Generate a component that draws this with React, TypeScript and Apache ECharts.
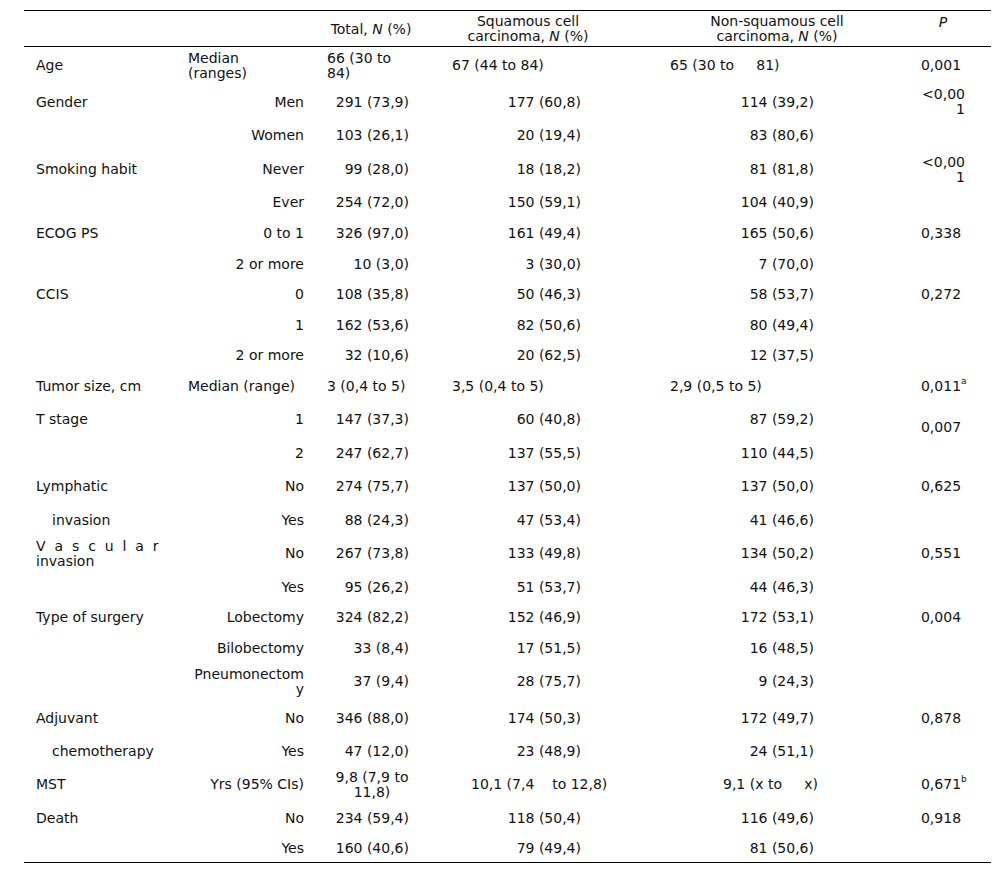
import React, { useEffect, useRef } from "react";
import * as echarts from "echarts";

// ---- Table data ----
const headers = ["Total, {i|N} (%)", "Squamous cell\ncarcinoma, {i|N} (%)", "Non-squamous cell\ncarcinoma, {i|N} (%)", "{i|P}"];

const variables = [
  "Age", "Gender", "", "Smoking habit", "", "ECOG PS", "", "CCIS", "", "",
  "Tumor size, cm", "T stage", "", "Lymphatic", "invasion", "V  a  s  c  u  l  a  r\ninvasion", "",
  "Type of surgery", "", "", "Adjuvant", "chemotherapy", "MST", "Death", "",
];

const subgroups = [
  "Median\n(ranges)", "Men", "Women", "Never", "Ever", "0 to 1", "2 or more", "0", "1", "2 or more",
  "Median (range)", "1", "2", "No", "Yes", "No", "Yes",
  "Lobectomy", "Bilobectomy", "Pneumonectom\ny", "No", "Yes", "Yrs (95% CIs)", "No", "Yes",
];

const totalN = [
  "66 (30 to\n84)", "291 (73,9)", "103 (26,1)", "99 (28,0)", "254 (72,0)", "326 (97,0)", "10 (3,0)",
  "108 (35,8)", "162 (53,6)", "32 (10,6)", "3 (0,4 to 5)", "147 (37,3)", "247 (62,7)", "274 (75,7)",
  "88 (24,3)", "267 (73,8)", "95 (26,2)", "324 (82,2)", "33 (8,4)", "37 (9,4)", "346 (88,0)",
  "47 (12,0)", "9,8 (7,9 to\n11,8)", "234 (59,4)", "160 (40,6)",
];

const squamousN = [
  "67 (44 to 84)", "177 (60,8)", "20 (19,4)", "18 (18,2)", "150 (59,1)", "161 (49,4)", "3 (30,0)",
  "50 (46,3)", "82 (50,6)", "20 (62,5)", "3,5 (0,4 to 5)", "60 (40,8)", "137 (55,5)", "137 (50,0)",
  "47 (53,4)", "133 (49,8)", "51 (53,7)", "152 (46,9)", "17 (51,5)", "28 (75,7)", "174 (50,3)",
  "23 (48,9)", "10,1 (7,4    to 12,8)", "118 (50,4)", "79 (49,4)",
];

const nonSquamousN = [
  "65 (30 to     81)", "114 (39,2)", "83 (80,6)", "81 (81,8)", "104 (40,9)", "165 (50,6)", "7 (70,0)",
  "58 (53,7)", "80 (49,4)", "12 (37,5)", "2,9 (0,5 to 5)", "87 (59,2)", "110 (44,5)", "137 (50,0)",
  "41 (46,6)", "134 (50,2)", "44 (46,3)", "172 (53,1)", "16 (48,5)", "9 (24,3)", "172 (49,7)",
  "24 (51,1)", "9,1 (x to     x)", "116 (49,6)", "81 (50,6)",
];

// P values by row, with optional superscript
const pRows = [0, 1, 3, 5, 7, 10, 11, 13, 15, 17, 20, 22, 23];
const pValues = ["0,001", "<0,00\n1", "<0,00\n1", "0,338", "0,272", "0,011", "0,007", "0,625", "0,551", "0,004", "0,878", "0,671", "0,918"];
const pSup = ["", "", "", "", "", "a", "", "", "", "", "", "b", ""];

// ---- Layout (positions only) ----
const rowY = [65, 101.5, 135, 169, 202, 232.5, 263.5, 294, 325, 355, 386, 419, 452.5, 486, 520, 553, 587, 617, 647.5, 681, 718, 751, 784, 818, 848];
const indentRows = [14, 21];
const FONT = "DejaVu Sans, Verdana, sans-serif";
const FS = 14;
const LH = 15;
const COLOR = "#111";

export default function App() {
  const ref = useRef<HTMLDivElement>(null);
  useEffect(() => {
    document.body.style.margin = "0";
    const chart = echarts.init(ref.current!, null, { renderer: "svg" });
    const els: any[] = [];
    const txt = (text: string, x: number, y: number, align: string, extra: any = {}) => {
      els.push({
        type: "text",
        x,
        y,
        silent: true,
        style: {
          text,
          fill: COLOR,
          fontFamily: FONT,
          fontSize: FS,
          lineHeight: LH,
          align,
          verticalAlign: "middle",
          rich: { i: { fontStyle: "italic", fontFamily: FONT, fontSize: FS, fill: COLOR, lineHeight: LH } },
          ...extra,
        },
      });
    };
    const hline = (y: number, w = 1) => {
      els.push({
        type: "line",
        silent: true,
        shape: { x1: 24, y1: y, x2: 991, y2: y },
        style: { stroke: "#000", lineWidth: w },
      });
    };
    hline(10.5, 1.2);
    hline(46.5, 1.2);
    hline(862.5, 1.2);

    // headers
    txt(headers[0], 371, 29, "center");
    txt(headers[1], 528, 28.5, "center");
    txt(headers[2], 777, 28.5, "center");
    txt(headers[3], 943, 22, "center");

    rowY.forEach((y, r) => {
      if (variables[r]) {
        txt(variables[r], indentRows.includes(r) ? 52 : 36, y, "left");
      }
      if (r === 0 || r === 10) txt(subgroups[r], 188, y, "left");
      else txt(subgroups[r], 304, y, "right");
      if (r === 0 || r === 10) {
        txt(totalN[r], 327, y, "left");
        txt(squamousN[r], 452, y, "left");
        txt(nonSquamousN[r], 670, y, "left");
      } else if (r === 22) {
        txt(totalN[r], 372, y, "center");
        txt(squamousN[r], 471, y, "left");
        txt(nonSquamousN[r], 723, y, "left");
      } else {
        txt(totalN[r], 409, y, "right");
        txt(squamousN[r], 581, y, "right");
        txt(nonSquamousN[r], 814, y, "right");
      }
    });

    pRows.forEach((r, k) => {
      const v = pValues[k];
      let y = rowY[r];
      if (r === 11) y = 426.5;
      if (v.includes("\n")) {
        txt(v, 965, y, "right");
      } else {
        txt(v, 941, y, "center");
        if (pSup[k]) {
          els.push({
            type: "text",
            x: 961,
            y: y - 5,
            silent: true,
            style: { text: pSup[k], fill: COLOR, fontFamily: FONT, fontSize: 9, align: "left", verticalAlign: "middle" },
          });
        }
      }
    });

    chart.setOption({
      animation: false,
      backgroundColor: "#fff",
      graphic: { elements: els },
    });
    return () => chart.dispose();
  }, []);
  return <div ref={ref} style={{ width: 1005, height: 877, background: "#fff" }} />;
}
